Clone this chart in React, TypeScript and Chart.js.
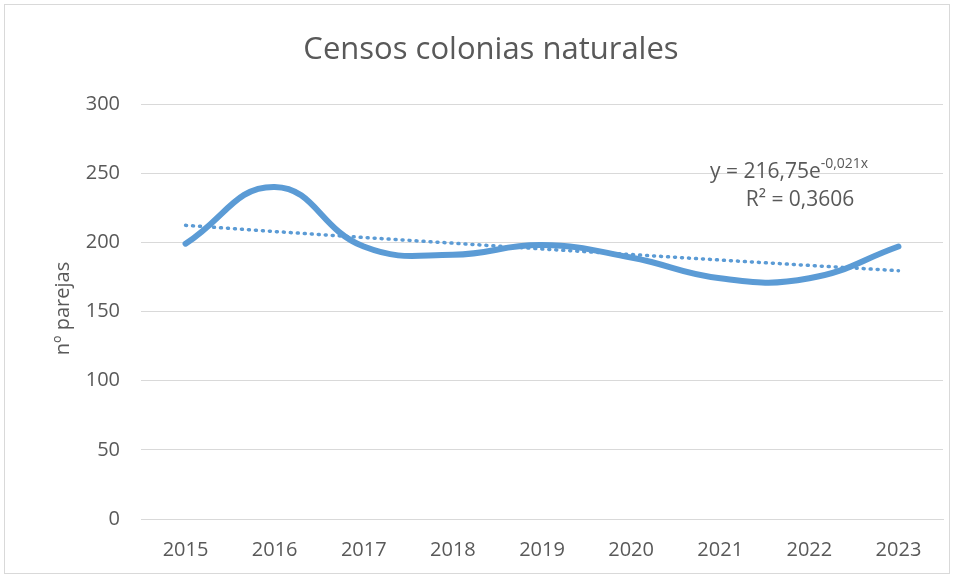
import React, { useEffect, useRef } from "react";
import { Chart, registerables } from "chart.js";

Chart.register(...registerables);

const years = ["2015", "2016", "2017", "2018", "2019", "2020", "2021", "2022", "2023"];
const parejas = [199, 240, 197, 191, 198, 189, 174, 174, 197];
const tendencia = [212.3, 207.8, 203.5, 199.4, 195.2, 191.2, 187.2, 183.3, 179.5];
const yTicks = [0, 50, 100, 150, 200, 250, 300];
const titleText = "Censos colonias naturales";
const yTitleText = "nº parejas";
const eqMain = "y = 216,75e";
const eqSup = "-0,021x";
const r2Text = "R² = 0,3606";

const FONT = "'Open Sans', 'Noto Sans', sans-serif";
const GRAY = "#595959";
const BLUE = "#5B9BD5";

const textPlugin = {
  id: "texts",
  afterDraw(chart: any) {
    const ctx = chart.ctx;
    const ca = chart.chartArea;
    ctx.save();
    ctx.fillStyle = GRAY;
    ctx.textBaseline = "middle";
    // title
    ctx.font = `31px ${FONT}`;
    ctx.textAlign = "center";
    ctx.fillText(titleText, 491, 50);
    // y title
    ctx.save();
    ctx.translate(63, (ca.top + ca.bottom) / 2 - 3);
    ctx.rotate(-Math.PI / 2);
    ctx.font = `20px ${FONT}`;
    ctx.fillText(yTitleText, 0, 0);
    ctx.restore();
    // equation
    ctx.textAlign = "left";
    ctx.font = `21px ${FONT}`;
    const x0 = 710;
    ctx.fillText(eqMain, x0, 172);
    const w = ctx.measureText(eqMain).width;
    ctx.font = `14px ${FONT}`;
    ctx.fillText(eqSup, x0 + w, 164);
    ctx.font = `21px ${FONT}`;
    ctx.textAlign = "center";
    ctx.fillText(r2Text, 800, 200);
    ctx.restore();
  },
};

export default function App() {
  const ref = useRef<HTMLCanvasElement>(null);
  useEffect(() => {
    document.body.style.margin = "0";
    const chart = new Chart(ref.current as HTMLCanvasElement, {
      type: "line",
      data: {
        labels: years,
        datasets: [
          {
            data: parejas,
            borderColor: BLUE,
            borderWidth: 6,
            tension: 0.45,
            pointRadius: 0,
            borderCapStyle: "round",
            fill: false,
          },
          {
            data: tendencia,
            borderColor: BLUE,
            borderWidth: 3.5,
            borderDash: [1, 6],
            borderCapStyle: "round",
            tension: 0,
            pointRadius: 0,
            fill: false,
          },
        ],
      },
      options: {
        animation: false,
        responsive: false,
        devicePixelRatio: 1,
        layout: { padding: { left: 0, right: 15, top: 104, bottom: 0 } },
        plugins: { legend: { display: false }, tooltip: { enabled: false }, title: { display: false } },
        scales: {
          x: {
            offset: true,
            grid: { display: false, drawTicks: false },
            border: { display: true, color: "#d9d9d9", width: 1 },
            ticks: { color: GRAY, font: { family: FONT, size: 20 }, padding: 19, maxRotation: 0, autoSkip: false },
            afterFit: (s: any) => { s.height = 59; },
          },
          y: {
            min: 0,
            max: 300,
            afterBuildTicks: (s: any) => { s.ticks = yTicks.map((v) => ({ value: v })); },
            grid: { color: "#d9d9d9", lineWidth: 1, drawTicks: false },
            border: { display: false },
            ticks: { color: GRAY, font: { family: FONT, size: 20 }, padding: 21 },
            afterFit: (s: any) => { s.width = 141; },
          },
        },
      },
      plugins: [textPlugin],
    } as any);
    return () => chart.destroy();
  }, []);
  return (
    <div style={{ position: "relative", width: 958, height: 578, background: "#fff" }}>
      <div style={{ position: "absolute", left: 4, top: 4, width: 946, height: 570, border: "1px solid #d9d9d9", boxSizing: "border-box" }} />
      <canvas ref={ref} width={958} height={578} style={{ position: "absolute", left: 0, top: 0 }} />
    </div>
  );
}
